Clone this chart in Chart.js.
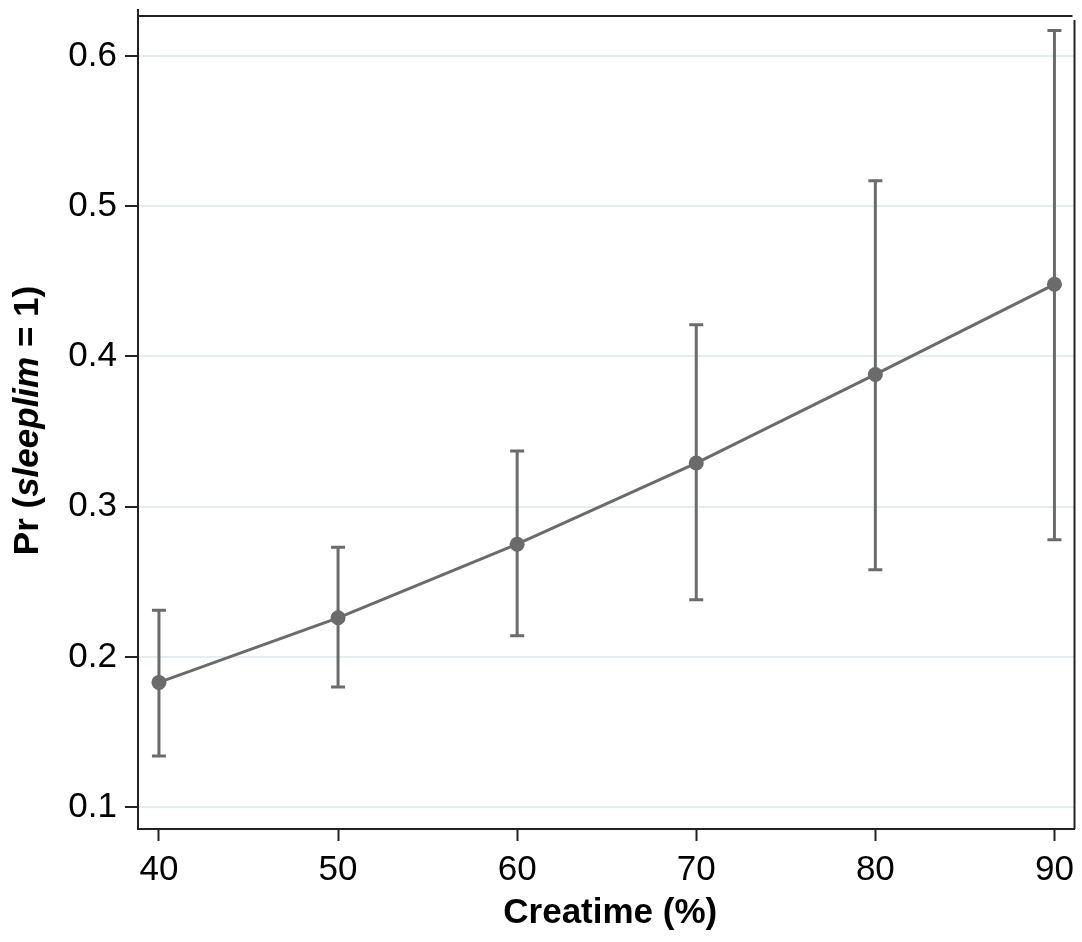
<!DOCTYPE html>
<html lang="en">
<head>
<meta charset="UTF-8">
<title>Pr (sleeplim = 1) by Creatime</title>
<script src="https://cdn.jsdelivr.net/npm/chart.js@4/dist/chart.umd.min.js"></script>
<style>
    html, body { margin: 0; padding: 0; background: #fff; }
    canvas { display: block; }
</style>
</head>
<body>
<canvas id="marginsChart" width="1082" height="942"></canvas>
<script>
    // data
    const creatime = [40, 50, 60, 70, 80, 90];
    const prob     = [0.183, 0.226, 0.275, 0.329, 0.388, 0.448];
    const ciLow    = [0.134, 0.180, 0.214, 0.238, 0.258, 0.278];
    const ciHigh   = [0.231, 0.273, 0.337, 0.421, 0.517, 0.617];
    const xTicks   = [40, 50, 60, 70, 80, 90];
    const yTicks   = [0.1, 0.2, 0.3, 0.4, 0.5, 0.6];

    const grey = '#6b6b6b';
    const axisColor = '#222';
    const fontFamily = '"Liberation Sans", Arial, sans-serif';

    // error bars with caps
    const errorBars = {
        id: 'errorBars',
        beforeDatasetsDraw(chart) {
            const ctx = chart.ctx;
            const xs = chart.scales.x, ys = chart.scales.y;
            ctx.save();
            ctx.strokeStyle = grey;
            ctx.lineWidth = 3;
            creatime.forEach((c, i) => {
                const px = xs.getPixelForValue(c);
                const top = ys.getPixelForValue(ciHigh[i]);
                const bot = ys.getPixelForValue(ciLow[i]);
                ctx.beginPath();
                ctx.moveTo(px, top); ctx.lineTo(px, bot);
                ctx.moveTo(px - 7, top); ctx.lineTo(px + 7, top);
                ctx.moveTo(px - 7, bot); ctx.lineTo(px + 7, bot);
                ctx.stroke();
            });
            ctx.restore();
        }
    };

    // plot box + axis titles
    const frameAndTitles = {
        id: 'frameAndTitles',
        afterDraw(chart) {
            const ctx = chart.ctx;
            const a = chart.chartArea;
            ctx.save();
            ctx.strokeStyle = axisColor;
            ctx.lineWidth = 2;
            ctx.beginPath();
            ctx.moveTo(a.left, a.top - 7); ctx.lineTo(a.left, a.top);
            ctx.moveTo(a.left, a.top); ctx.lineTo(a.right - 2, a.top);
            ctx.moveTo(a.right, a.top + 4); ctx.lineTo(a.right, a.bottom);
            ctx.stroke();

            ctx.fillStyle = '#000';
            // x title
            ctx.font = 'bold 35px ' + fontFamily;
            ctx.textAlign = 'center';
            ctx.textBaseline = 'middle';
            ctx.fillText('Creatime (%)', (a.left + a.right) / 2 + 4, 913);

            // y title, mixed bold / bold italic
            const parts = [
                ['Pr (', 'bold 35px '],
                ['sleeplim', 'italic bold 35px '],
                [' = 1)', 'bold 35px ']
            ];
            let total = 0;
            parts.forEach(p => { ctx.font = p[1] + fontFamily; total += ctx.measureText(p[0]).width; });
            ctx.translate(28, (a.top + a.bottom) / 2 - 2);
            ctx.rotate(-Math.PI / 2);
            ctx.textAlign = 'left';
            let x = -total / 2;
            parts.forEach(p => {
                ctx.font = p[1] + fontFamily;
                ctx.fillText(p[0], x, 0);
                x += ctx.measureText(p[0]).width;
            });
            ctx.restore();
        }
    };

    const ctx = document.getElementById('marginsChart').getContext('2d');
    new Chart(ctx, {
        type: 'line',
        data: {
            datasets: [{
                label: 'Pr(sleeplim=1)',
                data: creatime.map((c, i) => ({ x: c, y: prob[i] })),
                borderColor: grey,
                backgroundColor: grey,
                borderWidth: 3,
                pointRadius: 7.5,
                pointHoverRadius: 7.5,
                pointBorderWidth: 0,
                fill: false,
                tension: 0
            }]
        },
        options: {
            responsive: false,
            animation: false,
            events: [],
            layout: { padding: { top: 16, right: 4, left: 0, bottom: 0 } },
            plugins: {
                legend: { display: false },
                tooltip: { enabled: false }
            },
            scales: {
                x: {
                    type: 'linear',
                    min: 38.83,
                    max: 91.12,
                    afterBuildTicks: s => { s.ticks = xTicks.map(v => ({ value: v })); },
                    afterFit: s => {
                        s.height = 113;
                        s.paddingLeft = 0; s.paddingRight = 0;
                    },
                    border: { color: axisColor, width: 2 },
                    grid: { drawOnChartArea: false, tickLength: 12, tickColor: axisColor, tickWidth: 2 },
                    ticks: {
                        color: '#000',
                        padding: 8,
                        maxRotation: 0,
                        font: { family: fontFamily, size: 35 },
                        callback: v => String(v)
                    }
                },
                y: {
                    type: 'linear',
                    min: 0.0854,
                    max: 0.6266,
                    afterBuildTicks: s => { s.ticks = yTicks.map(v => ({ value: v })); },
                    afterFit: s => {
                        s.width = 138;
                        s.paddingTop = 0; s.paddingBottom = 0;
                    },
                    border: { color: axisColor, width: 2 },
                    grid: { color: '#e4eef0', lineWidth: 2, tickLength: 13, tickColor: axisColor, tickWidth: 2 },
                    ticks: {
                        color: '#000',
                        padding: 8,
                        font: { family: fontFamily, size: 35 },
                        callback: v => v.toFixed(1)
                    }
                }
            }
        },
        plugins: [errorBars, frameAndTitles]
    });
</script>
</body>
</html>
